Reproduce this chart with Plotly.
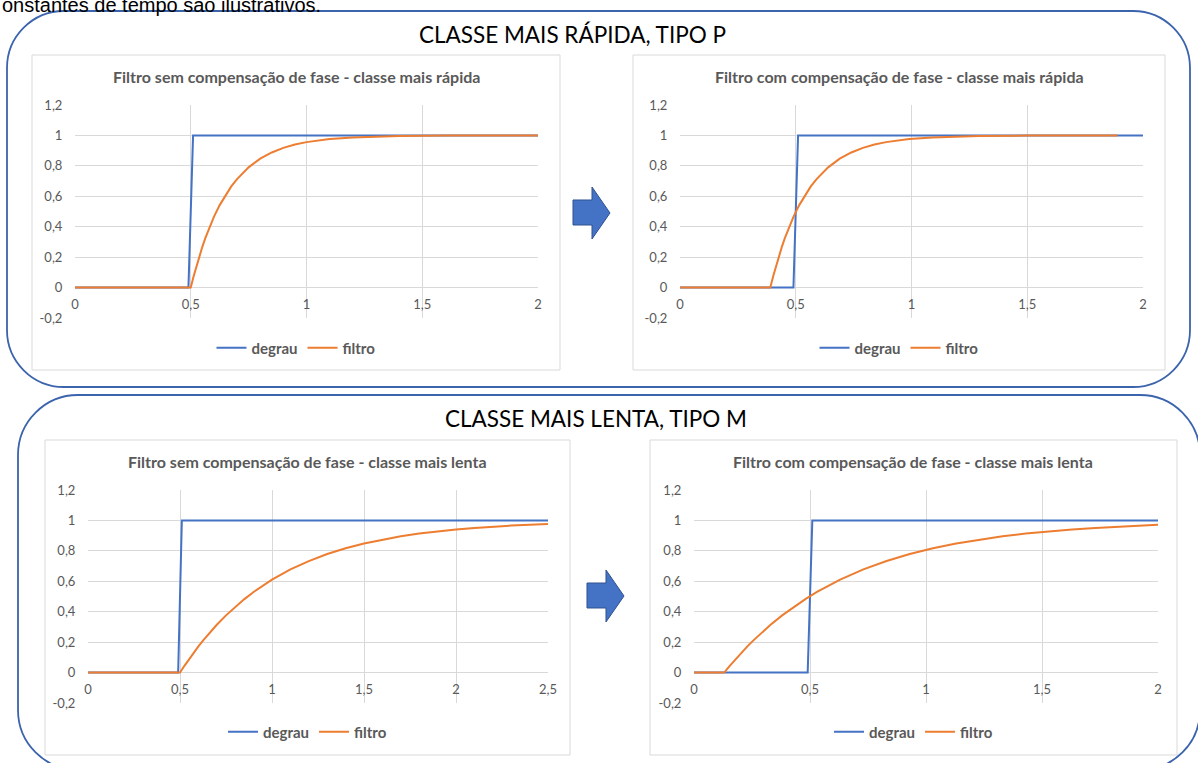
import plotly.graph_objects as go

W, H = 1198, 763

# ---------------- data ----------------
step_x_2 = [0, 0.49, 0.51, 2.0]
step_x_25 = [0, 0.49, 0.51, 2.5]
step_y = [0, 0, 1, 1]

fast_y = [0, 0, 0.075, 0.145, 0.209, 0.268, 0.323, 0.374, 0.421, 0.465, 0.542,
          0.608, 0.665, 0.713, 0.755, 0.790, 0.847, 0.888, 0.918, 0.940, 0.956,
          0.976, 0.987, 0.993, 0.996, 0.999, 1.0, 1.0]
fast_x_sem = [0, 0.5, 0.5125, 0.525, 0.5375, 0.55, 0.5625, 0.575, 0.5875, 0.6,
              0.625, 0.65, 0.675, 0.7, 0.725, 0.75, 0.8, 0.85, 0.9, 0.95, 1.0,
              1.1, 1.2, 1.3, 1.4, 1.6, 1.8, 2.0]
fast_x_com = [0, 0.39, 0.4025, 0.415, 0.4275, 0.44, 0.4525, 0.465, 0.4775, 0.49,
              0.515, 0.54, 0.565, 0.59, 0.615, 0.64, 0.69, 0.74, 0.79, 0.84,
              0.89, 0.99, 1.09, 1.19, 1.29, 1.49, 1.69, 1.89]

slow_x_sem = [0, 0.5, 0.525, 0.55, 0.575, 0.6, 0.625, 0.65, 0.7, 0.75, 0.8, 0.85,
              0.9, 0.95, 1.0, 1.1, 1.2, 1.3, 1.4, 1.5, 1.6, 1.7, 1.8, 1.9, 2.0,
              2.1, 2.2, 2.3, 2.4, 2.5]
slow_y_sem = [0, 0, 0.046, 0.090, 0.132, 0.172, 0.210, 0.246, 0.314, 0.376,
              0.432, 0.483, 0.530, 0.572, 0.611, 0.678, 0.733, 0.779, 0.817,
              0.848, 0.874, 0.896, 0.914, 0.929, 0.941, 0.951, 0.960, 0.966,
              0.972, 0.977]
slow_x_com = [0, 0.13, 0.155, 0.18, 0.205, 0.23, 0.255, 0.28, 0.33, 0.38, 0.43,
              0.48, 0.53, 0.58, 0.63, 0.73, 0.83, 0.93, 1.03, 1.13, 1.23, 1.33,
              1.43, 1.53, 1.63, 1.73, 1.83, 1.93, 2.0]
slow_y_com = [0, 0, 0.046, 0.090, 0.132, 0.172, 0.210, 0.246, 0.314, 0.376,
              0.432, 0.483, 0.530, 0.572, 0.611, 0.678, 0.733, 0.779, 0.817,
              0.848, 0.874, 0.896, 0.914, 0.929, 0.941, 0.951, 0.960, 0.966,
              0.971]

y_tickvals = [-0.2, 0, 0.2, 0.4, 0.6, 0.8, 1.0, 1.2]
y_ticktext = ["-0,2", "0", "0,2", "0,4", "0,6", "0,8", "1", "1,2"]
x_tickvals_2 = [0, 0.5, 1, 1.5, 2]
x_ticktext_2 = ["0", "0,5", "1", "1,5", "2"]
x_tickvals_25 = [0, 0.5, 1, 1.5, 2, 2.5]
x_ticktext_25 = ["0", "0,5", "1", "1,5", "2", "2,5"]

titles = [
    "Filtro sem compensação de fase - classe mais rápida",
    "Filtro com compensação de fase - classe mais rápida",
    "Filtro sem compensação de fase - classe mais lenta",
    "Filtro com compensação de fase - classe mais lenta",
]
section_titles = ["CLASSE MAIS RÁPIDA, TIPO P", "CLASSE MAIS LENTA, TIPO M"]
series_names = ["degrau", "filtro"]
top_text = "onstantes de tempo são ilustrativos."

BLUE = "#4472C4"
ORANGE = "#ED7D31"
GRID = "#D9D9D9"
TXT = "#595959"
FONT = "Lato"

charts = [
    dict(step_x=step_x_2, fx=fast_x_sem, fy=fast_y, xr=[0, 2],
         xtv=x_tickvals_2, xtt=x_ticktext_2),
    dict(step_x=step_x_2, fx=fast_x_com, fy=fast_y, xr=[0, 2],
         xtv=x_tickvals_2, xtt=x_ticktext_2),
    dict(step_x=step_x_25, fx=slow_x_sem, fy=slow_y_sem, xr=[0, 2.5],
         xtv=x_tickvals_25, xtt=x_ticktext_25),
    dict(step_x=step_x_2, fx=slow_x_com, fy=slow_y_com, xr=[0, 2],
         xtv=x_tickvals_2, xtt=x_ticktext_2),
]

# ---------------- layout geometry (pixels) ----------------
plot_boxes = [(75, 538, 105, 318), (680, 1143, 105, 318),
              (88, 548, 490, 703), (694, 1158, 490, 703)]
chart_boxes = [(32, 560, 55, 370), (633, 1165, 55, 370),
               (45, 570, 440, 755), (650, 1177, 440, 755)]
title_y = [76, 76, 461, 461]
legend_y = [348, 348, 732, 732]


def px(x):
    return x / W


def py(y):
    return 1 - y / H


fig = go.Figure()

for i, c in enumerate(charts):
    n = i + 1
    xa = "x" if n == 1 else f"x{n}"
    ya = "y" if n == 1 else f"y{n}"
    lg = "legend" if n == 1 else f"legend{n}"
    fig.add_trace(go.Scatter(x=c["step_x"], y=step_y, mode="lines",
                             name=series_names[0], line=dict(color=BLUE, width=2),
                             xaxis=xa, yaxis=ya, legend=lg))
    fig.add_trace(go.Scatter(x=c["fx"], y=c["fy"], mode="lines",
                             name=series_names[1], line=dict(color=ORANGE, width=2),
                             xaxis=xa, yaxis=ya, legend=lg))

layout = dict(
    width=W, height=H, margin=dict(l=0, r=0, t=0, b=0, autoexpand=False),
    paper_bgcolor="white", plot_bgcolor="rgba(0,0,0,0)",
    separators=", ", font=dict(family=FONT, color=TXT, size=13),
)

ymin, ymax = -0.2, 1.2
for i, c in enumerate(charts):
    n = i + 1
    sx = "" if n == 1 else str(n)
    x0, x1, yt, yb = plot_boxes[i]
    dom_y = [py(yb), py(yt)]
    pos0 = dom_y[0] + (0 - ymin) / (ymax - ymin) * (dom_y[1] - dom_y[0])
    layout["xaxis" + sx] = dict(
        domain=[px(x0), px(x1)], range=c["xr"], autorange=False,
        tickvals=c["xtv"], ticktext=c["xtt"], showgrid=True, gridcolor=GRID,
        gridwidth=1, zeroline=False, showline=False, ticks="",
        anchor="free", position=pos0, ticklabelstandoff=7, automargin=False,
        tickfont=dict(size=13, color=TXT, family=FONT), fixedrange=True)
    layout["yaxis" + sx] = dict(
        domain=dom_y, range=[ymin, ymax], autorange=False,
        tickvals=y_tickvals, ticktext=y_ticktext, showgrid=True, gridcolor=GRID,
        gridwidth=1, zeroline=False, showline=False, ticks="outside",
        ticklen=9, tickcolor="rgba(0,0,0,0)",
        anchor="x" + sx, automargin=False,
        tickfont=dict(size=13, color=TXT, family=FONT), fixedrange=True)
    cb = chart_boxes[i]
    layout["legend" + sx] = dict(
        orientation="h", x=px((cb[0] + cb[1]) / 2), xanchor="center",
        y=py(legend_y[i]), yanchor="middle", bgcolor="rgba(0,0,0,0)",
        font=dict(size=15, color=TXT, family=FONT, weight="bold"),
        itemwidth=30, tracegroupgap=0)

fig.update_layout(**layout)

shapes = []
annotations = []


def rrect_path(x0, y0, x1, y1, r):
    k = 0.5523 * r
    pts = [
        ("M", [(x0 + r, y0)]),
        ("L", [(x1 - r, y0)]),
        ("C", [(x1 - r + k, y0), (x1, y0 + r - k), (x1, y0 + r)]),
        ("L", [(x1, y1 - r)]),
        ("C", [(x1, y1 - r + k), (x1 - r + k, y1), (x1 - r, y1)]),
        ("L", [(x0 + r, y1)]),
        ("C", [(x0 + r - k, y1), (x0, y1 - r + k), (x0, y1 - r)]),
        ("L", [(x0, y0 + r)]),
        ("C", [(x0, y0 + r - k), (x0 + r - k, y0), (x0 + r, y0)]),
    ]
    s = ""
    for cmd, ps in pts:
        s += cmd + " ".join(f"{px(a):.5f},{py(b):.5f}" for a, b in ps) + " "
    return s + "Z"


def poly_path(points):
    return "M" + " L".join(f"{px(a):.5f},{py(b):.5f}" for a, b in points) + " Z"


# big rounded section boxes
for (x0, y0, x1, y1, r) in [(7, 11, 1190, 387, 57), (18, 395, 1200, 770, 60)]:
    shapes.append(dict(type="path", xref="paper", yref="paper",
                       path=rrect_path(x0, y0, x1, y1, r),
                       line=dict(color="#3B64AD", width=1.8), layer="below"))

# chart frames
for (x0, x1, y0, y1) in chart_boxes:
    shapes.append(dict(type="rect", xref="paper", yref="paper",
                       x0=px(x0), x1=px(x1), y0=py(y1), y1=py(y0),
                       line=dict(color=GRID, width=1), fillcolor="white",
                       layer="below"))

# arrows
for dx, dy in [(0, 0), (14, 383)]:
    pts = [(573, 200), (592, 200), (592, 187), (610, 213), (592, 239),
           (592, 225), (573, 225)]
    pts = [(a + dx, b + dy) for a, b in pts]
    shapes.append(dict(type="path", xref="paper", yref="paper",
                       path=poly_path(pts), fillcolor=BLUE,
                       line=dict(color="#2F528F", width=1)))

fig.update_layout(shapes=shapes)

# chart titles
for i, t in enumerate(titles):
    cb = chart_boxes[i]
    annotations.append(dict(text=t, xref="paper", yref="paper",
                            x=px((cb[0] + cb[1]) / 2), y=py(title_y[i]),
                            xanchor="center", yanchor="middle", showarrow=False,
                            font=dict(size=16, color=TXT, family=FONT,
                                      weight="bold")))

# section titles
for t, (cx, cy) in zip(section_titles, [(572, 35), (596, 418)]):
    annotations.append(dict(text=t, xref="paper", yref="paper",
                            x=px(cx), y=py(cy), xanchor="center",
                            yanchor="middle", showarrow=False,
                            font=dict(size=22.5, color="#000000", family=FONT)))

annotations.append(dict(text=top_text, xref="paper", yref="paper",
                        x=0, y=py(5), xanchor="left", yanchor="middle",
                        showarrow=False,
                        font=dict(size=20, color="#000000",
                                  family="Liberation Sans")))

fig.update_layout(annotations=annotations)

fig.write_html(
    "out.html",
    config={"displayModeBar": False, "staticPlot": True},
    post_script="document.body.style.margin='0px';"
                "document.body.style.padding='0px';"
                "document.documentElement.style.overflow='hidden';",
)
